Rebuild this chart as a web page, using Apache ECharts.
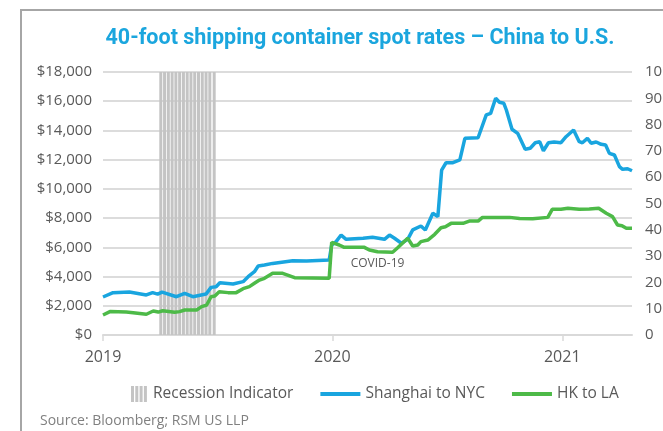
<!DOCTYPE html>
<html><head><meta charset="utf-8">
<script src="https://cdn.jsdelivr.net/npm/echarts@6/dist/echarts.min.js"></script>
<style>html,body{margin:0;padding:0;background:#fff}#c{width:663px;height:431px}</style>
</head><body><div id="c"></div>
<script>
const shanghaiNYC = [
 ['2019-01-01',2600],['2019-01-17',2900],['2019-02-12',2940],['2019-03-11',2740],['2019-03-21',2900],
 ['2019-03-29',2800],['2019-04-05',2940],['2019-04-28',2620],['2019-05-11',2850],['2019-05-24',2620],
 ['2019-06-14',2800],['2019-06-22',3260],['2019-06-30',3300],['2019-07-06',3580],['2019-07-27',3490],
 ['2019-08-12',3650],['2019-08-20',3990],['2019-08-30',4330],['2019-09-05',4720],['2019-09-15',4790],
 ['2019-09-28',4900],['2019-10-30',5080],['2019-11-21',5060],['2019-12-27',5130],['2019-12-31',6160],
 ['2020-01-07',6390],['2020-01-15',6840],['2020-01-23',6550],['2020-02-19',6620],['2020-03-05',6690],
 ['2020-03-24',6550],['2020-04-01',6840],['2020-04-09',6620],['2020-04-20',6280],['2020-04-30',6550],
 ['2020-05-08',7190],['2020-05-21',7460],['2020-05-28',7190],['2020-06-09',8330],['2020-06-17',8100],
 ['2020-06-23',11290],['2020-06-30',11790],['2020-07-11',11790],['2020-07-22',11980],['2020-07-30',13460],
 ['2020-08-20',13500],['2020-09-02',15060],['2020-09-09',15170],['2020-09-17',16200],['2020-09-23',15930],
 ['2020-09-30',15860],['2020-10-04',15400],['2020-10-13',14080],['2020-10-22',13800],['2020-11-03',12710],
 ['2020-11-11',12780],['2020-11-19',13160],['2020-11-26',13230],['2020-12-02',12610],['2020-12-10',13160],
 ['2020-12-19',13210],['2020-12-30',13160],['2021-01-07',13570],['2021-01-19',14030],['2021-01-28',13230],
 ['2021-02-02',13160],['2021-02-10',13460],['2021-02-16',13120],['2021-02-24',13210],['2021-03-04',13050],
 ['2021-03-11',13000],['2021-03-17',12430],['2021-03-25',12320],['2021-04-02',11520],['2021-04-07',11340],
 ['2021-04-15',11380],['2021-04-22',11240]
];
const hkLA = [
 ['2019-01-01',1370],['2019-01-12',1600],['2019-02-07',1570],['2019-02-18',1530],['2019-03-11',1420],
 ['2019-03-22',1640],['2019-03-30',1570],['2019-04-06',1660],['2019-04-25',1550],['2019-05-03',1600],
 ['2019-05-11',1710],['2019-05-30',1710],['2019-06-07',1940],['2019-06-15',2050],['2019-06-22',2620],
 ['2019-06-28',2670],['2019-07-05',2960],['2019-07-19',2900],['2019-08-01',2900],['2019-08-12',3170],
 ['2019-08-22',3310],['2019-08-30',3540],['2019-09-07',3760],['2019-09-15',3880],['2019-09-28',4220],
 ['2019-10-14',4220],['2019-11-02',3920],['2019-12-27',3880],['2019-12-31',6340],['2020-01-12',6160],
 ['2020-01-20',6000],['2020-02-21',6000],['2020-02-29',5820],['2020-03-13',5700],['2020-04-06',5660],
 ['2020-04-14',5970],['2020-04-30',6620],['2020-05-08',6090],['2020-05-16',6160],['2020-05-21',6390],
 ['2020-06-01',6500],['2020-06-12',6890],['2020-06-22',7340],['2020-06-29',7410],['2020-07-08',7640],
 ['2020-07-27',7640],['2020-08-06',7800],['2020-08-20',7800],['2020-08-27',8050],['2020-10-09',8050],
 ['2020-10-25',7970],['2020-11-15',7960],['2020-12-09',8050],['2020-12-16',8600],['2020-12-30',8600],
 ['2021-01-10',8670],['2021-01-28',8600],['2021-02-13',8620],['2021-02-28',8670],['2021-03-12',8330],
 ['2021-03-22',8100],['2021-03-30',7530],['2021-04-06',7480],['2021-04-13',7300],['2021-04-22',7300]
];
const recession = [
 ['2019-04-03',100],['2019-04-09',100],['2019-04-15',100],['2019-04-21',100],['2019-04-27',100],
 ['2019-05-03',100],['2019-05-09',100],['2019-05-15',100],['2019-05-21',100],['2019-05-27',100],
 ['2019-06-02',100],['2019-06-08',100],['2019-06-14',100],['2019-06-20',100],['2019-06-27',100]
];
const yearTicks = ['2019-01-01','2020-01-01','2021-01-01'];
const xMin = '2019-01-01', xMax = '2021-04-22';
const covidNote = {date:'2020-03-13', value:4900, text:'COVID-19'};

const FONT = 'Open Sans';
const ts = d => +new Date(d + 'T00:00:00Z');
const toPts = arr => arr.map(p => [ts(p[0]), p[1]]);
const tickVals = yearTicks.map(ts);
const dot = 'M0,0h0.01v0.01h-0.01z M0,16h0.01v-0.01h-0.01z M39.99,0h0.01v0.01h-0.01z ';
const chart = echarts.init(document.getElementById('c'), null, {renderer:'canvas'});
chart.setOption({
  animation:false,
  textStyle:{fontFamily:FONT},
  title:{text:'40-foot shipping container spot rates – China to U.S.', left:355, textAlign:'center', top:23,
    textStyle:{color:'#1ba6de', fontSize:21.5, fontWeight:'bold', fontFamily:'Roboto'}},
  grid:{left:103, right:31, top:72, bottom:96, outerBoundsMode:'none', containLabel:false},
  legend:{left:103, top:381, itemGap:27, itemWidth:40, itemHeight:16,
    textStyle:{color:'#595959', fontSize:15.5, fontFamily:FONT},
    data:[
      {name:'Recession Indicator', icon:'path://' + dot + 'M23,0h3v16h-3z M27.3,0h3v16h-3z M31.6,0h3v16h-3z M35.9,0h3v16h-3z', itemStyle:{color:'#c4c4c4'}},
      {name:'Shanghai to NYC', icon:'path://' + dot + 'M0,6h40v4h-40z', itemStyle:{color:'#19a5df'}},
      {name:'HK to LA', icon:'path://' + dot + 'M0,6h40v4h-40z', itemStyle:{color:'#4dba48'}}
    ]},
  xAxis:{type:'value', min:ts(xMin), max:ts(xMax),
    axisLine:{show:true, lineStyle:{color:'#d9d9d9', width:2}},
    axisTick:{show:true, customValues:tickVals, length:6, lineStyle:{color:'#d9d9d9', width:1.5}},
    axisLabel:{customValues:tickVals, color:'#595959', fontSize:16, margin:14,
      formatter:v => String(new Date(v).getUTCFullYear())},
    splitLine:{show:false}},
  yAxis:[
    {type:'value', min:0, max:18000, interval:2000,
     axisLabel:{color:'#595959', fontSize:15, margin:11,
       formatter:v => '$' + v.toLocaleString('en-US')},
     splitLine:{lineStyle:{color:'#dcdcdc', width:2}}, axisLine:{show:false}, axisTick:{show:false}},
    {type:'value', min:0, max:100, interval:10, position:'right',
     axisLabel:{color:'#595959', fontSize:15, margin:13},
     splitLine:{show:false}, axisLine:{show:false}, axisTick:{show:false}}
  ],
  series:[
    {name:'Recession Indicator', type:'bar', yAxisIndex:1, data:toPts(recession), barWidth:3,
     itemStyle:{color:'#c4c4c4'}, z:1, silent:true},
    {name:'Shanghai to NYC', type:'line', data:toPts(shanghaiNYC), symbol:'none', showSymbol:false,
     lineStyle:{color:'#19a5df', width:3.5}, itemStyle:{color:'#19a5df'}, z:3},
    {name:'HK to LA', type:'line', data:toPts(hkLA), symbol:'none', showSymbol:false,
     lineStyle:{color:'#4dba48', width:3.5}, itemStyle:{color:'#4dba48'}, z:3,
     markPoint:{symbol:'circle', symbolSize:1, itemStyle:{color:'rgba(0,0,0,0)'},
       label:{show:true, position:'inside', formatter:covidNote.text, color:'#595959', fontSize:12, fontFamily:FONT},
       data:[{coord:[ts(covidNote.date), covidNote.value]}]}}
  ],
  graphic:[
    {type:'rect', shape:{x:21, y:10, width:700, height:500}, style:{fill:'none', stroke:'#a6a6a6', lineWidth:2}, silent:true},
    {type:'text', left:40, top:414, style:{text:'Source: Bloomberg; RSM US LLP', fill:'#808080', font:'14px "Open Sans"'}}
  ]
});
</script></body></html>
